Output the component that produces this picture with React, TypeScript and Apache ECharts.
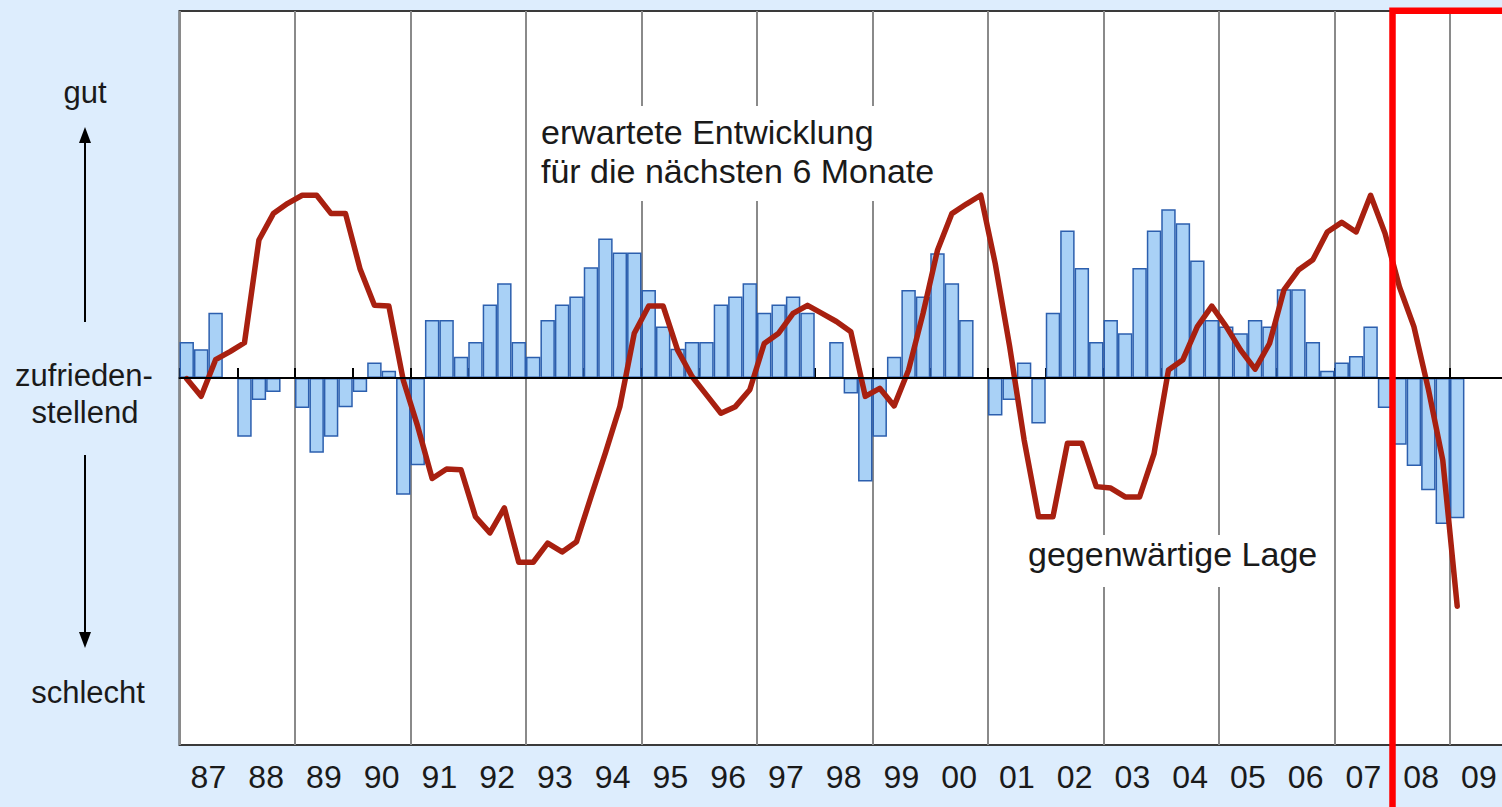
import React, { useEffect, useRef } from 'react';
import * as echarts from 'echarts';

// Year labels (1987 – 2009)
const years = ['87', '88', '89', '90', '91', '92', '93', '94', '95', '96', '97', '98',
  '99', '00', '01', '02', '03', '04', '05', '06', '07', '08', '09'];
const quarterNames = ['I', 'II', 'III', 'IV'];
const quarters = years.flatMap((y) => quarterNames.map((q) => `${q}/${y}`));

// erwartete Entwicklung für die nächsten 6 Monate (bars), quarterly balance
const erwartungen: (number | null)[] = [
  4.9, 3.9, 8.9, 0,        // 87
  -8.0, -3.0, -1.9, 0,     // 88
  -4.1, -10.2, -8.0, -4.0, // 89
  -1.9, 2.1, 1.0, -15.9,   // 90
  -11.9, 7.9, 7.9, 2.9,    // 91
  4.9, 10.0, 12.9, 4.9,    // 92
  2.9, 7.9, 10.0, 11.1,    // 93
  15.1, 19.0, 17.1, 17.1,  // 94
  12.0, 7.0, 4.0, 4.9,     // 95
  4.9, 10.0, 11.1, 12.9,   // 96
  8.9, 10.0, 11.1, 8.9,    // 97
  0, 4.9, -2.1, -14.1,     // 98
  -8.0, 2.9, 12.0, 11.1,   // 99
  17.0, 12.9, 7.9, 0,      // 00
  -5.1, -3.0, 2.1, -6.2,   // 01
  8.9, 20.1, 15.0, 4.9,    // 02
  7.9, 6.1, 15.0, 20.1,    // 03
  23.0, 21.1, 16.0, 7.9,   // 04
  7.0, 6.1, 7.9, 7.0,      // 05
  12.1, 12.1, 4.9, 1.0,    // 06
  2.1, 3.0, 7.0, -4.1,     // 07
  -9.1, -12.0, -15.3, -19.9, // 08
  -19.1, null, null, null, // 09
];

// gegenwärtige Lage (line), quarterly balance
const lage: (number | null)[] = [
  -0.1, -2.5, 2.5, 3.6,      // 87
  4.8, 18.8, 22.4, 23.8,     // 88
  24.9, 24.9, 22.4, 22.4,    // 89
  14.9, 9.9, 9.8, -0.3,      // 90
  -6.6, -13.7, -12.4, -12.5, // 91
  -18.9, -21.1, -17.7, -25.1, // 92
  -25.1, -22.5, -23.7, -22.3, // 93
  -16.2, -10.2, -3.9, 6.1,   // 94
  9.8, 9.8, 3.8, 0.2,        // 95
  -2.3, -4.8, -3.9, -1.6,    // 96
  4.7, 6.1, 8.8, 9.9,        // 97
  8.8, 7.7, 6.3, -2.5,       // 98
  -1.4, -3.8, 1.1, 8.8,      // 99
  17.4, 22.4, 23.7, 24.9,    // 00
  15.6, 4.3, -8.4, -18.9,    // 01
  -18.9, -8.9, -8.9, -14.8,  // 02
  -15.0, -16.2, -16.2, -10.3, // 03
  1.1, 2.5, 7.0, 9.8,        // 04
  7.0, 3.8, 1.2, 4.7,        // 05
  12.0, 14.7, 16.1, 19.9,    // 06
  21.2, 19.9, 24.9, 19.7,    // 07
  12.4, 7.0, -1.5, -11.2,    // 08
  -31.1, null, null, null,   // 09
];

const FONT = '"Liberation Sans", Arial, Helvetica, sans-serif';
const TEXT_COLOR = '#1a1a1a';

export default function App() {
  const ref = useRef<HTMLDivElement>(null);

  useEffect(() => {
    if (!ref.current) return;
    const chart = echarts.init(ref.current, null, { renderer: 'svg' });

    const txt = (text: string, x: number, y: number, size: number, align = 'center') => ({
      type: 'text',
      x,
      y,
      z: 60,
      style: {
        text,
        fontSize: size,
        fontFamily: FONT,
        fill: TEXT_COLOR,
        align,
        verticalAlign: 'middle',
      },
    });

    chart.setOption({
      animation: false,
      backgroundColor: '#ddedfd',
      grid: {
        left: 179.5,
        top: 11,
        width: 1328.25,
        bottom: 62,
        show: true,
        backgroundColor: '#ffffff',
        borderColor: '#3a3a3a',
        borderWidth: 2,
      },
      xAxis: [
        {
          type: 'category',
          data: years,
          position: 'bottom',
          boundaryGap: true,
          axisLine: { show: true, lineStyle: { color: '#000', width: 2 } },
          axisTick: {
            show: true,
            inside: true,
            length: 10,
            interval: 0,
            alignWithLabel: false,
            lineStyle: { color: '#000', width: 2 },
          },
          axisLabel: {
            interval: 0,
            fontSize: 32,
            fontFamily: FONT,
            color: TEXT_COLOR,
            margin: 16,
          },
          splitLine: {
            show: true,
            interval: (index: number) => index % 2 === 0,
            lineStyle: { color: '#8a8a8a', width: 2 },
          },
        },
        {
          type: 'category',
          data: quarters,
          show: false,
          boundaryGap: true,
        },
      ],
      yAxis: {
        type: 'value',
        min: -50,
        max: 50,
        show: false,
      },
      series: [
        {
          name: 'erwartete Entwicklung',
          type: 'bar',
          xAxisIndex: 1,
          data: erwartungen,
          barCategoryGap: '0%',
          barGap: '0%',
          z: 2,
          itemStyle: {
            color: '#a9d1f6',
            borderColor: '#2c5fae',
            borderWidth: 1.5,
          },
          markLine: {
            silent: true,
            symbol: ['none', 'none'],
            label: { show: false },
            lineStyle: { color: '#000', width: 2, type: 'solid' },
            data: [{ yAxis: 0 }],
          },
        },
        {
          name: 'gegenwärtige Lage',
          type: 'line',
          xAxisIndex: 1,
          data: lage,
          symbol: 'none',
          z: 3,
          lineStyle: { color: '#a82010', width: 5.5, join: 'round', cap: 'round' },
        },
      ],
      graphic: [
        { type: 'rect', z: 50, shape: { x: 533, y: 106, width: 412, height: 95 }, style: { fill: '#ffffff' } },
        { type: 'rect', z: 50, shape: { x: 1020, y: 535, width: 302, height: 52 }, style: { fill: '#ffffff' } },
        txt('erwartete Entwicklung', 541, 132, 34, 'left'),
        txt('für die nächsten 6 Monate', 541, 171, 34, 'left'),
        txt('gegenwärtige Lage', 1028, 554, 34, 'left'),
        txt('gut', 85, 92, 31),
        txt('zufrieden-', 84, 375.5, 31),
        txt('stellend', 85, 412, 31),
        txt('schlecht', 88, 692, 31),
        { type: 'line', z: 60, shape: { x1: 85, y1: 322, x2: 85, y2: 138 }, style: { stroke: '#000', lineWidth: 2 } },
        { type: 'polygon', z: 60, shape: { points: [[85, 127], [79, 143], [91, 143]] }, style: { fill: '#000' } },
        { type: 'line', z: 60, shape: { x1: 85, y1: 455, x2: 85, y2: 637 }, style: { stroke: '#000', lineWidth: 2 } },
        { type: 'polygon', z: 60, shape: { points: [[85, 648], [79, 632], [91, 632]] }, style: { fill: '#000' } },
        {
          type: 'rect',
          z: 100,
          shape: { x: 1392.5, y: 10.7, width: 200, height: 900 },
          style: { fill: 'none', stroke: '#ff0000', lineWidth: 6.5 },
        },
      ],
    });

    return () => chart.dispose();
  }, []);

  return (
    <div
      style={{
        position: 'absolute',
        left: 0,
        top: 0,
        width: 1502,
        height: 807,
        overflow: 'hidden',
        background: '#ddedfd',
      }}
    >
      <div ref={ref} style={{ position: 'absolute', left: 0, top: 0, width: 1512, height: 807 }} />
    </div>
  );
}
